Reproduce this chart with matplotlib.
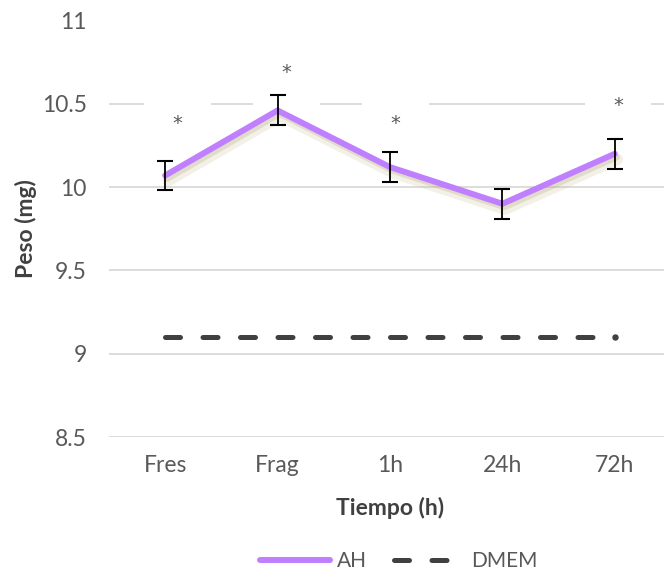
import matplotlib.pyplot as plt
import matplotlib.patheffects as pe
from matplotlib.lines import Line2D
import numpy as np

# Categories and values
categories = ['Fres', 'Frag', '1h', '24h', '72h']
ah = [10.07, 10.46, 10.12, 9.90, 10.20]
ah_err = [0.087, 0.09, 0.09, 0.09, 0.09]
dmem = [9.1, 9.1, 9.1, 9.1, 9.1]
# asterisk labels (significance)
star_y = [10.38, 10.69, 10.38, None, 10.49]
star_dx = [0.11, 0.08, 0.05, 0.0, 0.03]

plt.rcParams['font.family'] = ['Lato', 'DejaVu Sans']
plt.rcParams['lines.scale_dashes'] = False

fig = plt.figure(figsize=(6.64, 5.72), dpi=100)
ax = fig.add_axes([109 / 664, 1 - 437 / 572, 562 / 664, 416.5 / 572])

x = np.arange(len(categories))

# Gridlines
ax.set_ylim(8.5, 11)
ax.set_xlim(-0.5, 4.5)
ax.set_yticks([8.5, 9, 9.5, 10, 10.5, 11])
ax.set_yticklabels(['8.5', '9', '9.5', '10', '10.5', '11'])
ax.yaxis.grid(True, color='#d9d9d9', linewidth=1.3, zorder=0)
ax.set_axisbelow(True)
for s in ax.spines.values():
    s.set_visible(False)
ax.tick_params(length=0, colors='#595959', labelsize=16.5)
ax.tick_params(axis='y', pad=16)
ax.tick_params(axis='x', pad=13)
ax.set_xticks(x)
ax.set_xticklabels(categories)

# DMEM dashed line
ax.plot(x, dmem, color='#404040', linewidth=3.6, dashes=(10.8, 16.2),
        dash_capstyle='round', zorder=3)
# closing dot at the end of the dashed line
ax.plot(x[-1:], dmem[-1:], 'o', color='#404040', markersize=3.6, zorder=3)

# AH line with soft shadow
ax.plot(x, ah, color='#bf7fff', linewidth=4.3, solid_capstyle='round',
        solid_joinstyle='round', zorder=4,
        path_effects=[pe.SimpleLineShadow(offset=(2, -4), shadow_color='#c4bc92', alpha=0.22, linewidth=8),
                      pe.SimpleLineShadow(offset=(1.5, -2.5), shadow_color='#b8ae80', alpha=0.3),
                      pe.Normal()])
ax.errorbar(x, ah, yerr=ah_err, fmt='none', ecolor='black', elinewidth=1.3,
            capsize=6, capthick=1.5, zorder=5)

# asterisks with white label boxes
for i, yy in enumerate(star_y):
    if yy is None:
        continue
    ax.text(x[i] + star_dx[i], yy, '*', ha='center', va='center', fontsize=14,
            color='#595959', zorder=2, family='DejaVu Sans',
            bbox=dict(facecolor='white', edgecolor='none', boxstyle='square,pad=1.45'))

ax.set_xlabel('Tiempo (h)', fontsize=16.5, fontweight='bold', color='#404040', labelpad=15)
ax.set_ylabel('Peso (mg)', fontsize=16.5, fontweight='bold', color='#404040')
ax.yaxis.set_label_coords(-0.129, 0.5)

handles = [Line2D([], [], color='#bf7fff', linewidth=4.3, solid_capstyle='round'),
           Line2D([], [], color='#404040', linewidth=3.6, dashes=(10.8, 16.2), dash_capstyle='round')]
fig.legend(handles, ['AH', 'DMEM'], loc='center', bbox_to_anchor=(0.6, 1 - 561 / 572),
           ncol=2, frameon=False, fontsize=15, handlelength=3.4, handletextpad=0.3,
           columnspacing=1.3, labelcolor='#595959', borderpad=0)

fig.savefig('out.png', dpi=100)
